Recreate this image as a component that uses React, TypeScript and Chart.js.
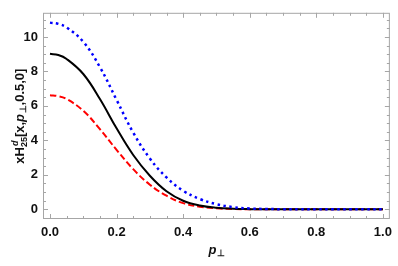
import React, { useEffect, useRef } from "react";
import { Chart, registerables } from "chart.js";

Chart.register(...registerables);

// transverse momentum values p_perp
const pPerp = [0, 0.025, 0.05, 0.1, 0.15, 0.2, 0.25, 0.3, 0.35, 0.4, 0.45, 0.5, 0.55, 0.6, 0.65, 0.7, 0.75, 0.8, 0.85, 0.9, 0.95, 1.0];
// blue dotted curve
const blueDotted = [10.83, 10.76, 10.55, 9.72, 8.25, 6.35, 4.45, 2.95, 1.85, 1.08, 0.6, 0.3, 0.13, 0.05, 0.02, 0.008, 0, 0, 0, 0, 0, 0];
// black solid curve
const blackSolid = [9.02, 8.95, 8.72, 7.85, 6.4, 4.7, 3.15, 1.95, 1.05, 0.5, 0.22, 0.09, 0.035, 0.012, 0.004, 0, 0, 0, 0, 0, 0, 0];
// red dashed curve
const redDashed = [6.62, 6.565, 6.4, 5.72, 4.65, 3.45, 2.33, 1.43, 0.79, 0.36, 0.15, 0.06, 0.02, 0.007, 0, 0, 0, 0, 0, 0, 0, 0];

const xTickValues = [0, 0.2, 0.4, 0.6, 0.8, 1.0];
const yTickValues = [0, 2, 4, 6, 8, 10];

const FONT = "'Liberation Sans', Arial, sans-serif";

const framePlugin = {
  id: "mmaFrame",
  beforeDatasetsDraw(chart: any) {
    const { ctx, chartArea, scales } = chart;
    const { left, right, top, bottom } = chartArea;
    const xs = scales.x;
    const ys = scales.y;
    ctx.save();
    ctx.strokeStyle = "#a6a6a6";
    ctx.lineWidth = 1;
    ctx.strokeRect(left + 0.5, top + 0.5, right - left - 1, bottom - top - 1);
    // x ticks (every 0.05, major every 0.2)
    for (let i = 0; i <= 20; i++) {
      const v = i * 0.05;
      const px = Math.round(xs.getPixelForValue(v)) + 0.5;
      const len = i % 4 === 0 ? 5 : 3;
      ctx.beginPath();
      ctx.moveTo(px, bottom);
      ctx.lineTo(px, bottom - len);
      ctx.moveTo(px, top);
      ctx.lineTo(px, top + len);
      ctx.stroke();
    }
    // y ticks (every 0.5, major every 2)
    for (let i = 0; i <= 22; i++) {
      const v = i * 0.5;
      if (v > ys.max) break;
      const py = Math.round(ys.getPixelForValue(v)) + 0.5;
      const len = i % 4 === 0 ? 5 : 3;
      ctx.beginPath();
      ctx.moveTo(left, py);
      ctx.lineTo(left + len, py);
      ctx.moveTo(right, py);
      ctx.lineTo(right - len, py);
      ctx.stroke();
    }
    ctx.restore();
  },
  afterDraw(chart: any) {
    const { ctx, chartArea } = chart;
    ctx.save();
    ctx.fillStyle = "#111";
    ctx.textBaseline = "alphabetic";
    ctx.textAlign = "left";
    // Y title: xH^d_25[x,p_perp,0.5,0]
    const big = `bold 13px ${FONT}`;
    const bigIt = `italic bold 13px ${FONT}`;
    const small = `bold 9px ${FONT}`;
    const smallIt = `italic bold 9px ${FONT}`;
    const pieces: any[] = [
      { t: "xH", f: big, dy: 0 },
      { stack: [{ t: "d", f: smallIt, dy: -6 }, { t: "25", f: small, dy: 3 }] },
      { t: "[x,", f: big, dy: 0 },
      { t: "p", f: bigIt, dy: 0 },
      { t: "\u22A5", f: small, dy: 2 },
      { t: ",0.5,0]", f: big, dy: 0 },
    ];
    const widthOf = (p: any) => {
      if (p.stack) {
        return Math.max(
          ...p.stack.map((s: any) => {
            ctx.font = s.f;
            return ctx.measureText(s.t).width;
          })
        );
      }
      ctx.font = p.f;
      return ctx.measureText(p.t).width;
    };
    const total = pieces.reduce((a, p) => a + widthOf(p), 0) + 1;
    const cy = (chartArea.top + chartArea.bottom) / 2;
    ctx.translate(24, cy);
    ctx.rotate(-Math.PI / 2);
    let u = -total / 2;
    for (const p of pieces) {
      const w = widthOf(p);
      if (p.stack) {
        for (const s of p.stack) {
          ctx.font = s.f;
          ctx.fillText(s.t, u + (s.t === "d" ? 1 : 0), s.dy);
        }
      } else {
        ctx.font = p.f;
        ctx.fillText(p.t, u, p.dy);
      }
      u += w + (p.t === "p" ? 0.5 : 0);
    }
    ctx.setTransform(1, 0, 0, 1, 0, 0);
    // X title: p_perp
    ctx.font = bigIt;
    const wp = ctx.measureText("p").width;
    ctx.font = small;
    const wq = ctx.measureText("\u22A5").width;
    const cx = (chartArea.left + chartArea.right) / 2;
    const x0 = cx - (wp + wq) / 2;
    ctx.font = bigIt;
    ctx.fillText("p", x0, 254);
    ctx.font = small;
    ctx.fillText("\u22A5", x0 + wp + 0.5, 256);
    ctx.restore();
  },
};

export default function App() {
  const canvasRef = useRef<HTMLCanvasElement | null>(null);

  useEffect(() => {
    document.body.style.margin = "0";
    const canvas = canvasRef.current;
    if (!canvas) return;
    const mk = (vals: number[]) => pPerp.map((x, i) => ({ x, y: vals[i] }));
    const lineBase = { pointRadius: 0, fill: false, tension: 0.4 };
    const chart = new Chart(canvas, {
      type: "line",
      data: {
        datasets: [
          {
            ...lineBase,
            label: "blue",
            data: mk(blueDotted),
            borderColor: "#0000ff",
            borderWidth: 2.5,
            borderDash: [2.5, 3.5],
          },
          {
            ...lineBase,
            label: "black",
            data: mk(blackSolid),
            borderColor: "#000000",
            borderWidth: 2,
          },
          {
            ...lineBase,
            label: "red",
            data: mk(redDashed),
            borderColor: "#ff0000",
            borderWidth: 2,
            borderDash: [6.5, 3],
          },
        ],
      },
      options: {
        responsive: false,
        animation: false,
        events: [],
        layout: { padding: { top: 4, right: 4, left: 0, bottom: 0 } },
        plugins: { legend: { display: false }, tooltip: { enabled: false } },
        scales: {
          x: {
            type: "linear",
            min: -0.021,
            max: 1.021,
            grid: { display: false, drawTicks: false },
            border: { display: false },
            afterFit: (s: any) => {
              s.height = 47;
            },
            afterBuildTicks: (s: any) => {
              s.ticks = xTickValues.map((v) => ({ value: v }));
            },
            ticks: {
              padding: 6,
              color: "#111",
              maxRotation: 0,
              autoSkip: false,
              font: { family: FONT, weight: "bold", size: 13 },
              callback: (v: any) => Number(v).toFixed(1),
            },
          },
          y: {
            type: "linear",
            min: -0.56,
            max: 11.4,
            grid: { display: false, drawTicks: false },
            border: { display: false },
            afterFit: (s: any) => {
              s.width = 43;
            },
            afterBuildTicks: (s: any) => {
              s.ticks = yTickValues.map((v) => ({ value: v }));
            },
            ticks: {
              padding: 5,
              color: "#111",
              autoSkip: false,
              font: { family: FONT, weight: "bold", size: 13 },
              callback: (v: any) => String(v),
            },
          },
        },
      },
      plugins: [framePlugin],
    } as any);
    return () => chart.destroy();
  }, []);

  return (
    <div style={{ width: 398, height: 266 }}>
      <canvas ref={canvasRef} width={398} height={266} style={{ display: "block" }} />
    </div>
  );
}
